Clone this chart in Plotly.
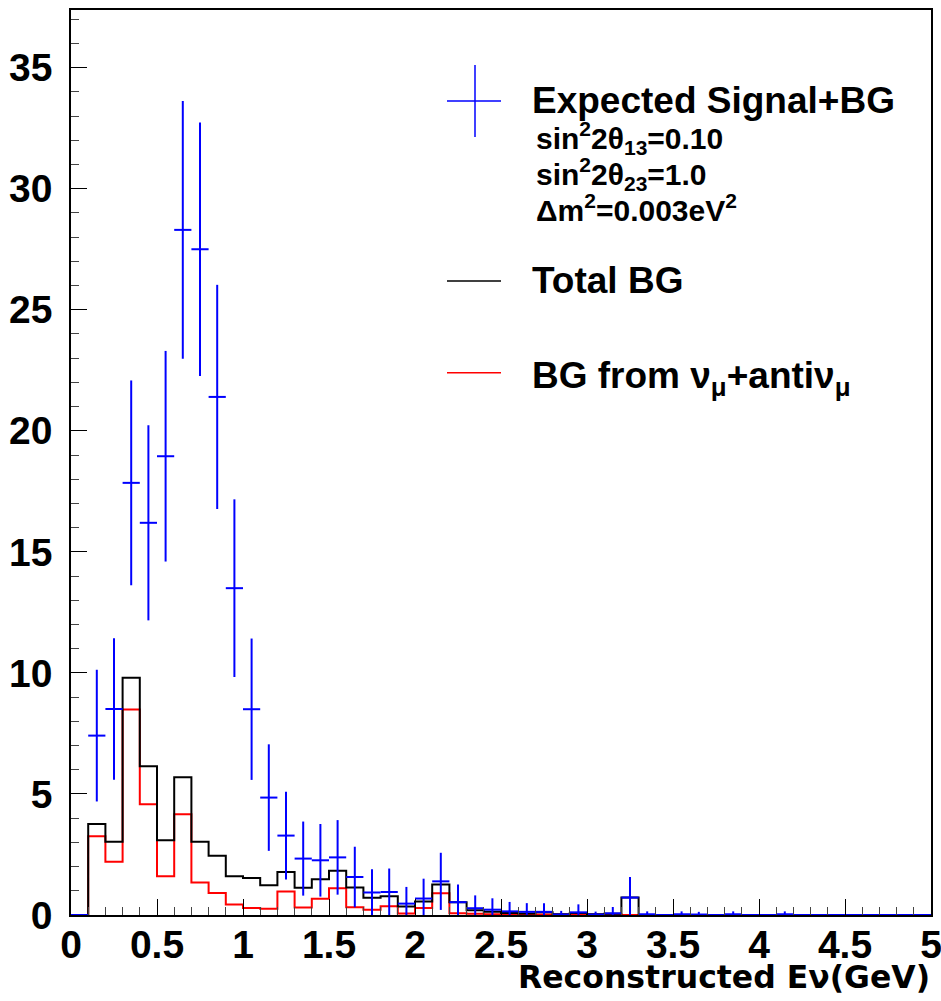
import plotly.graph_objects as go

# ---------------- data (50 bins of 0.1 GeV from 0 to 5) ----------------
bin_width = 0.1
bin_lo = [round(i * bin_width, 1) for i in range(50)]

signal_bg = [0, 7.41, 8.51, 17.85, 16.2, 18.95, 28.3, 27.5, 21.4, 13.5,
             8.5, 4.85, 3.28, 2.33, 2.26, 2.38, 1.57, 0.93, 0.95, 0.47,
             0.68, 1.39, 0.53, 0.28, 0.22, 0.15, 0.13, 0.13, 0.02, 0.11,
             0.02, 0.07, 0.72, 0.03, 0, 0.03, 0.02, 0, 0.03, 0,
             0, 0.03, 0, 0, 0, 0, 0, 0, 0, 0]
signal_err = [0, 2.72, 2.92, 4.23, 4.03, 4.35, 5.32, 5.24, 4.63, 3.67,
              2.92, 2.20, 1.81, 1.53, 1.50, 1.54, 1.25, 0.96, 0.97, 0.69,
              0.82, 1.18, 0.73, 0.53, 0.47, 0.39, 0.36, 0.36, 0.15, 0.33,
              0.12, 0.26, 0.85, 0.12, 0, 0.12, 0.11, 0, 0.12, 0,
              0, 0.12, 0, 0, 0, 0, 0, 0, 0, 0]
total_bg = [0, 3.76, 3.03, 9.80, 6.14, 3.09, 5.69, 3.03, 2.45, 1.60,
            1.53, 1.23, 1.78, 1.13, 1.48, 1.83, 1.14, 0.71, 0.77, 0.35,
            0.56, 1.26, 0.53, 0.20, 0.13, 0.08, 0.06, 0.11, 0.03, 0.08,
            0.03, 0.05, 0.72, 0, 0, 0, 0, 0, 0, 0,
            0, 0, 0, 0, 0, 0, 0, 0, 0, 0]
numu_bg = [0, 3.25, 2.20, 8.49, 4.57, 1.60, 4.16, 1.34, 0.91, 0.43,
           0.29, 0.26, 0.97, 0.31, 0.67, 1.10, 0.32, 0.22, 0.36, 0.06,
           0.29, 0.90, 0.07, 0.05, 0.03, 0.03, 0.02, 0.02, 0.02, 0.02,
           0.02, 0.03, 0, 0, 0, 0, 0, 0, 0, 0,
           0, 0, 0, 0, 0, 0, 0, 0, 0, 0]

x_tick_vals = [0, 0.5, 1, 1.5, 2, 2.5, 3, 3.5, 4, 4.5, 5]
x_tick_text = ["0", "0.5", "1", "1.5", "2", "2.5", "3", "3.5", "4", "4.5", "5"]
y_tick_vals = [0, 5, 10, 15, 20, 25, 30, 35]
y_tick_text = ["0", "5", "10", "15", "20", "25", "30", "35"]

# ---------------- figure ----------------
edges = bin_lo + [5.0]
centers = [b + bin_width / 2 for b in bin_lo]

fig = go.Figure()

fig.add_trace(go.Scatter(
    x=edges, y=numu_bg + [numu_bg[-1]], mode="lines", line_shape="hv",
    line=dict(color="#ff0000", width=2), showlegend=False, hoverinfo="skip"))
fig.add_trace(go.Scatter(
    x=edges, y=total_bg + [total_bg[-1]], mode="lines", line_shape="hv",
    line=dict(color="#000000", width=2), showlegend=False, hoverinfo="skip"))
fig.add_trace(go.Scatter(
    x=centers, y=signal_bg, mode="markers",
    marker=dict(size=0.1, color="#0000ff", opacity=0),
    error_y=dict(type="data", array=signal_err, color="#0000ff", thickness=2, width=0),
    error_x=dict(type="constant", value=bin_width / 2, color="#0000ff", thickness=2, width=0),
    showlegend=False, hoverinfo="skip"))

# plot area in pixels: x 71..931, y 10..915.4
L, R, T, B = 71, 931, 10, 915.4
W, H = R - L, B - T


def px(xp):
    return (xp - L) / W


def py(yp):
    return (B - yp) / H


shapes = [
    # legend symbols
    dict(type="line", xref="paper", yref="paper", x0=px(475), x1=px(475), y0=py(65), y1=py(137),
         line=dict(color="#0000ff", width=1.5)),
    dict(type="line", xref="paper", yref="paper", x0=px(447), x1=px(501), y0=py(101), y1=py(101),
         line=dict(color="#0000ff", width=1.5)),
    dict(type="line", xref="paper", yref="paper", x0=px(447), x1=px(501), y0=py(281), y1=py(281),
         line=dict(color="#000000", width=1.5)),
    dict(type="line", xref="paper", yref="paper", x0=px(447), x1=px(501), y0=py(373), y1=py(373),
         line=dict(color="#ff0000", width=1.5)),
]

LF = "Liberation Sans"
ann = []


def add_text(text, xp, yp, size, family=LF, xanchor="left", yanchor="middle"):
    ann.append(dict(text=text, xref="paper", yref="paper", x=px(xp), y=py(yp),
                    xanchor=xanchor, yanchor=yanchor, showarrow=False, borderpad=0,
                    font=dict(family=family, size=size, color="black", weight="bold")))


add_text("Expected Signal+BG", 531, 101, 37)
add_text("sin<sup>2</sup>2θ<sub>13</sub>=0.10", 535, 138, 30)
add_text("sin<sup>2</sup>2θ<sub>23</sub>=1.0", 535, 174, 30)
add_text("Δm<sup>2</sup>=0.003eV<sup>2</sup>", 535, 208, 30)
add_text("Total BG", 531, 281, 37)
add_text("BG from ν<sub>μ</sub>+antiν<sub>μ</sub>", 531, 378, 37)
add_text("Reconstructed Eν(GeV)", 931, 977, 31.5, family="DejaVu Sans", xanchor="right")

fig.update_layout(
    width=941, height=1001,
    margin=dict(l=L, r=941 - R, t=T, b=1001 - B, autoexpand=False),
    paper_bgcolor="white", plot_bgcolor="white",
    shapes=shapes, annotations=ann,
    showlegend=False,
)

fig.update_xaxes(
    range=[0, 5], tickmode="array", tickvals=x_tick_vals, ticktext=x_tick_text,
    ticks="inside", ticklen=16, tickwidth=1, tickcolor="black",
    minor=dict(ticks="inside", ticklen=8, dtick=0.1, tick0=0, tickcolor="#444", tickwidth=1, showgrid=False),
    showline=True, linecolor="black", linewidth=1.5, mirror=True,
    showgrid=False, zeroline=False, automargin=False,
    tickfont=dict(family=LF, size=39, color="black", weight="bold"),
    ticklabelstandoff=-6, ticklabeloverflow="allow",
)
fig.update_yaxes(
    range=[0, H / 24.22], tickmode="array", tickvals=y_tick_vals, ticktext=y_tick_text,
    ticks="inside", ticklen=16, tickwidth=1, tickcolor="black",
    minor=dict(ticks="inside", ticklen=8, dtick=1, tick0=0, tickcolor="#444", tickwidth=1, showgrid=False),
    showline=True, linecolor="black", linewidth=1.5, mirror=True,
    showgrid=False, zeroline=False, automargin=False,
    tickfont=dict(family=LF, size=39, color="black", weight="bold"),
    ticklabelstandoff=9, ticklabeloverflow="allow",
)

fig.write_html("out.html", config={"displayModeBar": False},
               post_script="document.body.style.margin='0';")
